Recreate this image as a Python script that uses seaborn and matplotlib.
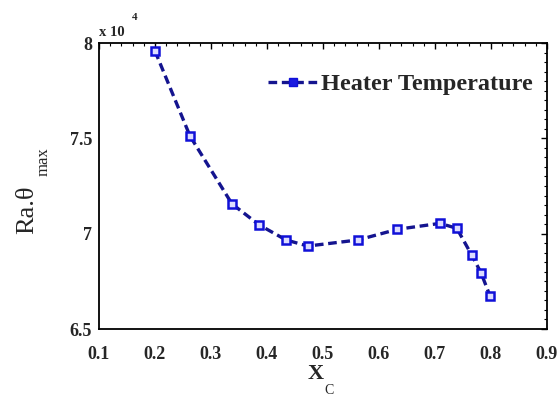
import matplotlib
matplotlib.use("Agg")
import matplotlib.pyplot as plt
import seaborn as sns
import pandas as pd
from matplotlib.ticker import MultipleLocator, FormatStrFormatter
from matplotlib.lines import Line2D

# Data (y in units of 1e4)
xc = [0.2, 0.2625, 0.3375, 0.386, 0.434, 0.473, 0.5625, 0.633, 0.709, 0.739, 0.7655, 0.782, 0.798]
ra_theta = [7.958, 7.512, 7.156, 7.046, 6.967, 6.935, 6.967, 7.023, 7.054, 7.028, 6.888, 6.796, 6.675]
series_name = "Heater Temperature"
xticks = [0.1, 0.2, 0.3, 0.4, 0.5, 0.6, 0.7, 0.8, 0.9]
yticks = [6.5, 7, 7.5, 8]

sns.set_style("white")
plt.rcParams['font.family'] = ['Liberation Serif', 'DejaVu Serif']
plt.rcParams['mathtext.fontset'] = 'stix'

df = pd.DataFrame({"Xc": xc, "val": ra_theta})

fig = plt.figure(figsize=(5.59, 3.97), dpi=100)
ax = fig.add_axes([99/559, 1-329/397, (547-99)/559, (329-43)/397])

line_color = "#14148f"
sns.lineplot(data=df, x="Xc", y="val", ax=ax, color=line_color, linestyle=(0, (2.6, 1.4)),
             linewidth=2.4, marker="s", markersize=5.6, markerfacecolor="#dcdcff",
             markeredgecolor="#1010d8", markeredgewidth=1.8)

ax.set_xlim(0.1, 0.9)
ax.set_ylim(6.5, 8)
ax.set_xticks(xticks)
ax.set_yticks(yticks)
ax.xaxis.set_minor_locator(MultipleLocator(0.02))
ax.yaxis.set_minor_locator(MultipleLocator(0.05))
ax.yaxis.set_major_formatter(FormatStrFormatter('%g'))
ax.xaxis.set_major_formatter(FormatStrFormatter('%g'))
ax.tick_params(which='both', direction='in', top=True, right=True, color='black')
ax.tick_params(which='major', length=4, width=1.0)
ax.tick_params(which='minor', length=2.2, width=0.8)
ax.tick_params(axis='x', which='major', pad=12)
ax.tick_params(axis='y', which='major', pad=5)
for lab in ax.get_xticklabels() + ax.get_yticklabels():
    lab.set_fontweight('bold')
    lab.set_fontsize(13)
for sp in ax.spines.values():
    sp.set_linewidth(1.3)
    sp.set_color('black')
ax.set_xlabel("")
ax.set_ylabel("")

# legend
handle = Line2D([], [], color=line_color, linestyle=(0, (2.6, 1.4)), linewidth=2.4, marker="s",
                markersize=6, markerfacecolor="#1a1ae0", markeredgecolor="#1010d8")
leg = ax.legend([handle], [series_name], loc='upper right', frameon=False,
                prop={'weight': 'bold', 'size': 17.5, 'family': 'Liberation Serif'},
                handlelength=2.0, handletextpad=0.15, borderaxespad=0.2,
                bbox_to_anchor=(1.0, 0.945))

# offset text
fig.text(99/559, 1-33/397, "x 10", fontsize=10.5, fontweight='bold', ha='left', va='center')
fig.text(132/559, 1-17/397, "4", fontsize=8, fontweight='bold', ha='left', va='center')

# y label
fig.text(27/559, 1-210/397, "Ra.θ", fontsize=19, rotation=90, ha='center', va='center')
fig.text(44/559, 1-162/397, "max", fontsize=12, rotation=90, ha='center', va='center')

# x label
fig.text(316/559, 1-374/397, "X", fontsize=16, fontweight='bold', ha='center', va='center')
fig.text(329/559, 1-396.5/397, "C", fontsize=10, ha='center', va='bottom')

fig.savefig("out.png", dpi=100)
